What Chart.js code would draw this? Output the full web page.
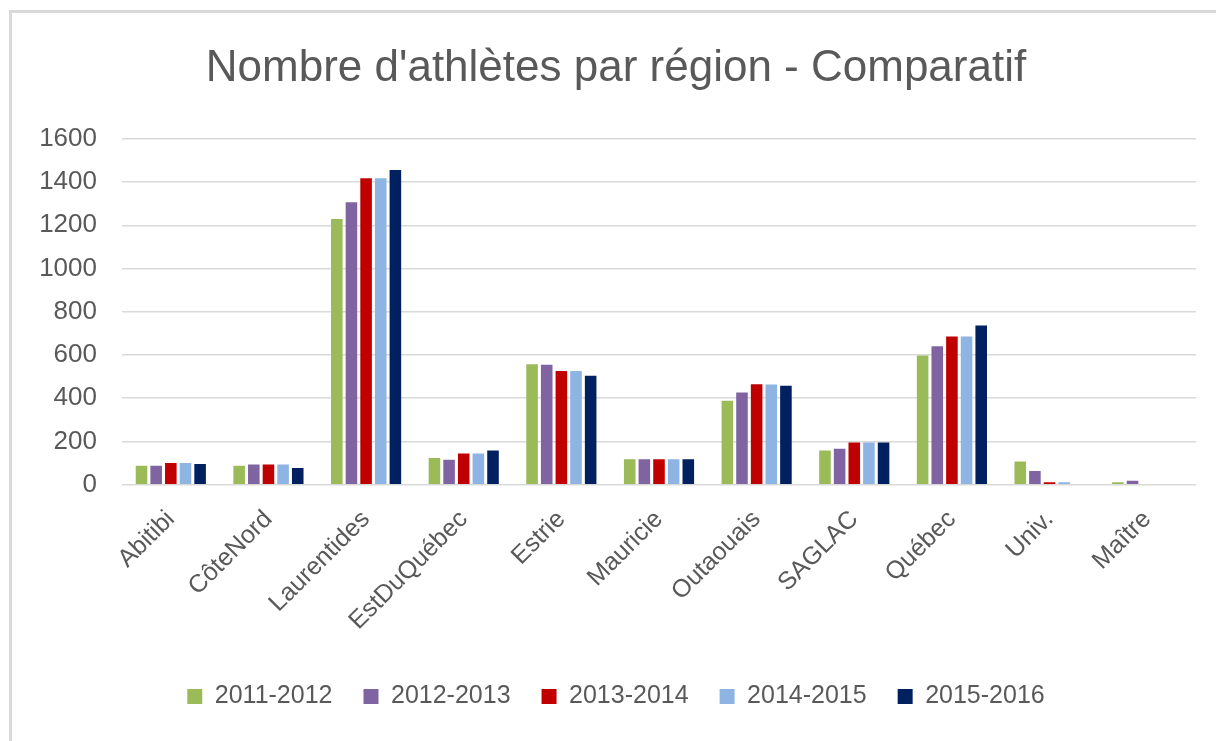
<!DOCTYPE html>
<html>
<head>
<meta charset="utf-8">
<script src="https://cdn.jsdelivr.net/npm/chart.js@4/dist/chart.umd.min.js"></script>
<style>
  html, body { margin: 0; padding: 0; background: #fff; }
  #wrap { position: relative; width: 1216px; height: 741px; overflow: hidden; }
  /* light grey frame on the left and top, like the cropped Excel chart */
  #frame { position: absolute; left: 9px; top: 10px; width: 1300px; height: 800px;
           border-left: 3px solid #d9d9d9; border-top: 3px solid #d9d9d9; }
  canvas { position: absolute; left: 0; top: 0; }
</style>
</head>
<body>
<div id="wrap">
  <div id="frame"></div>
  <canvas id="chart" width="1216" height="741"></canvas>
</div>
<script>
// Categories (regions)
const regions = ['Abitibi', 'CôteNord', 'Laurentides', 'EstDuQuébec', 'Estrie', 'Mauricie',
  'Outaouais', 'SAGLAC', 'Québec', 'Univ.', 'Maître'];

// Athletes per region, one array per season
const season2011 = [88, 88, 1229, 124, 557, 118, 388, 158, 598, 108, 11];
const season2012 = [88, 94, 1306, 116, 555, 118, 427, 167, 640, 64, 19];
const season2013 = [100, 94, 1418, 144, 526, 118, 465, 195, 686, 12, 0];
const season2014 = [100, 94, 1418, 144, 526, 118, 464, 195, 686, 11, 0];
const season2015 = [96, 77, 1456, 158, 504, 118, 458, 195, 737, 0, 0];

const seasonLabels = ['2011-2012', '2012-2013', '2013-2014', '2014-2015', '2015-2016'];
const seasonColors = ['#9bbb59', '#8064a2', '#c00000', '#8db4e2', '#002060'];
const seasonData = [season2011, season2012, season2013, season2014, season2015];

const textColor = '#595959';
const fontFamily = '"Liberation Sans", Arial, sans-serif';

const ctx = document.getElementById('chart').getContext('2d');
new Chart(ctx, {
  type: 'bar',
  data: {
    labels: regions,
    datasets: seasonLabels.map((label, i) => ({
      label,
      data: seasonData[i],
      backgroundColor: seasonColors[i],
      borderWidth: 0,
      categoryPercentage: 0.75,
      barPercentage: 0.79
    }))
  },
  options: {
    responsive: false,
    animation: false,
    layout: {
      // left padding nudges title/legend centre right; y labels must still fit in the axis box
      padding: { left: 36, right: 20, top: 0, bottom: 22 }
    },
    plugins: {
      title: {
        display: true,
        text: "Nombre d'athlètes par région - Comparatif",
        color: textColor,
        font: { family: fontFamily, size: 44, weight: 'normal' },
        padding: { top: 42, bottom: 44 }
      },
      legend: {
        position: 'bottom',
        labels: {
          color: textColor,
          font: { family: fontFamily, size: 25 },
          boxWidth: 15,
          boxHeight: 15,
          padding: 31
        }
      },
      tooltip: { enabled: false }
    },
    scales: {
      x: {
        afterFit: (scale) => { scale.height = scale.height + 5; },
        grid: { display: false },
        border: { display: false },
        ticks: {
          color: textColor,
          font: { family: fontFamily, size: 25 },
          maxRotation: 45,
          minRotation: 45,
          padding: 12
        }
      },
      y: {
        min: 0,
        max: 1600,
        afterFit: (scale) => { scale.width = 86; },
        grid: { color: '#d9d9d9', lineWidth: 1.5, drawTicks: false },
        border: { display: false },
        ticks: {
          stepSize: 200,
          color: textColor,
          font: { family: fontFamily, size: 26 },
          padding: 25,
          callback: (value) => String(value)
        }
      }
    }
  }
});
</script>
</body>
</html>
